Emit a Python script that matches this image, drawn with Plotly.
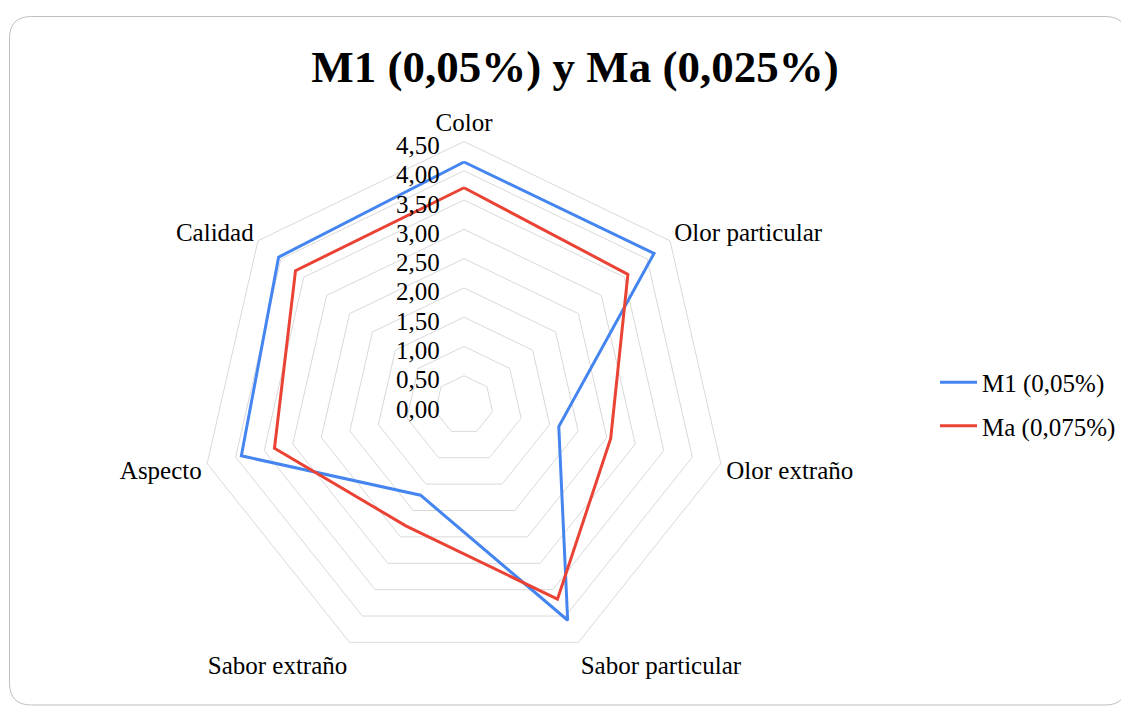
import plotly.graph_objects as go

categories = ["Color", "Olor particular", "Olor extraño", "Sabor particular",
              "Sabor extraño", "Aspecto", "Calidad"]
m1_values = [4.15, 4.15, 1.66, 4.08, 1.71, 3.90, 4.05]
ma_values = [3.71, 3.58, 2.57, 3.68, 2.29, 3.32, 3.68]
radial_ticks = [0, 0.5, 1.0, 1.5, 2.0, 2.5, 3.0, 3.5, 4.0, 4.5]
radial_ticktext = ["0,00", "0,50", "1,00", "1,50", "2,00", "2,50", "3,00",
                   "3,50", "4,00", "4,50"]

FONT = "Liberation Serif, Times New Roman, serif"
OFF = 8  # default page body margin
W, H = 1129 - OFF, 711 - OFF


def px(x):
    return (x - OFF) / W


def py(y):
    return 1 - (y - OFF) / H


fig = go.Figure()
fig.add_trace(go.Scatterpolar(
    r=m1_values + [m1_values[0]], theta=categories + [categories[0]],
    mode="lines", name="M1 (0,05%)", legendgroup="a",
    line=dict(color="#4485F0", width=3)))
fig.add_trace(go.Scatterpolar(
    r=ma_values + [ma_values[0]], theta=categories + [categories[0]],
    mode="lines", name="Ma (0,075%)", legendgroup="b",
    line=dict(color="#EA4335", width=3)))

cx, cy, R = 464, 405, 263.5
fig.update_layout(
    width=W, height=H,
    margin=dict(l=0, r=0, t=0, b=0),
    paper_bgcolor="white",
    font=dict(family=FONT, size=25, color="#000000"),
    title=dict(text="<b>M1 (0,05%) y Ma (0,025%)</b>",
               font=dict(family=FONT, size=45, color="#000000"),
               x=px(575), xanchor="center", y=py(66), yanchor="middle"),
    polar=dict(
        domain=dict(x=[px(cx - R), px(cx + R)],
                    y=[py(cy + R), py(cy - R)]),
        bgcolor="white",
        gridshape="linear",
        radialaxis=dict(range=[0, 4.5], tickvals=radial_ticks,
                        ticktext=[t + "\u00a0" for t in radial_ticktext],
                        angle=90,
                        side="counterclockwise", showline=False, ticks="",
                        gridcolor="#D9D9D9", gridwidth=1,
                        tickfont=dict(family=FONT, size=25, color="#000000")),
        angularaxis=dict(direction="clockwise", rotation=90,
                         showgrid=False, showline=True, linecolor="#D9D9D9",
                         linewidth=1, ticks="",
                         tickfont=dict(family=FONT, size=25, color="#000000")),
    ),
    showlegend=True,
    legend=dict(x=px(935), xanchor="left", y=py(404), yanchor="middle",
                itemwidth=37, traceorder="grouped", tracegroupgap=8,
                font=dict(family=FONT, size=25, color="#000000"),
                bgcolor="rgba(0,0,0,0)"),
)

# rounded chart border
x0, x1 = px(9.5), px(1127)
y0, y1 = py(705), py(16.5)
rx, ry = 22 / W, 22 / H
path = (f"M {x0+rx},{y1} L {x1-rx},{y1} Q {x1},{y1} {x1},{y1-ry} "
        f"L {x1},{y0+ry} Q {x1},{y0} {x1-rx},{y0} L {x0+rx},{y0} "
        f"Q {x0},{y0} {x0},{y0+ry} L {x0},{y1-ry} Q {x0},{y1} {x0+rx},{y1} Z")
fig.add_shape(type="path", path=path, xref="paper", yref="paper",
              line=dict(color="#BFBFBF", width=1), layer="below")

fig.write_html("out.html")
